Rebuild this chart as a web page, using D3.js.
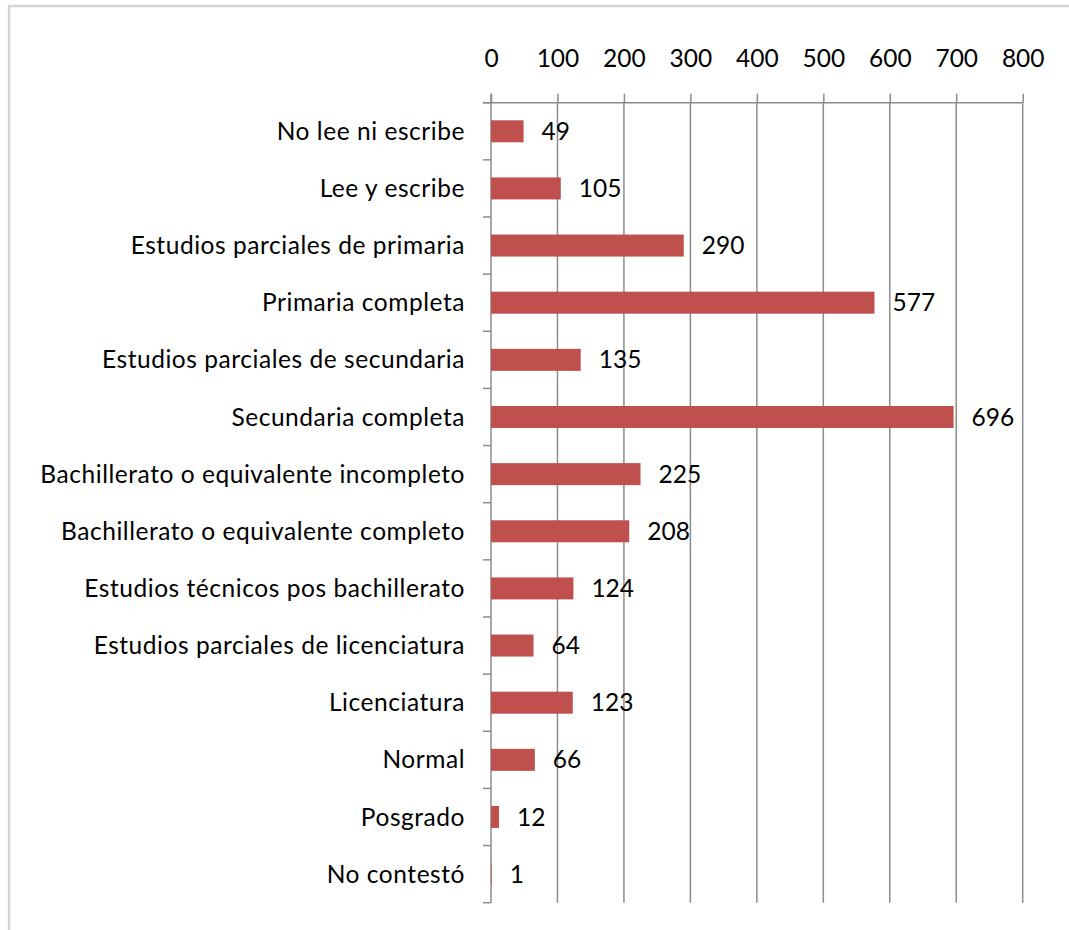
<!DOCTYPE html>
<html>
<head>
<meta charset="utf-8">
<script src="https://cdn.jsdelivr.net/npm/d3@7"></script>
<style>
  html, body { margin: 0; padding: 0; background: #fff; }
  svg { display: block; }
  text { font-family: Lato, "Open Sans", sans-serif; fill: #000; }
</style>
</head>
<body>
<svg id="chart" width="1069" height="930"></svg>
<script>
const categories = [
  "No lee ni escribe",
  "Lee y escribe",
  "Estudios parciales de primaria",
  "Primaria completa",
  "Estudios parciales de secundaria",
  "Secundaria completa",
  "Bachillerato o equivalente incompleto",
  "Bachillerato o equivalente completo",
  "Estudios técnicos pos bachillerato",
  "Estudios parciales de licenciatura",
  "Licenciatura",
  "Normal",
  "Posgrado",
  "No contestó"
];
const values = [49, 105, 290, 577, 135, 696, 225, 208, 124, 64, 123, 66, 12, 1];
const tickValues = [0, 100, 200, 300, 400, 500, 600, 700, 800];

(function () {
const svg = d3.select("#chart");
const pLeft = 491, pRight = 1022.7, pTop = 102.7, pBottom = 902.7;
const fontSize = 24.5;
const gridColor = "#8c8c8c";

// outer border
svg.append("rect")
  .attr("x", 9).attr("y", 6)
  .attr("width", 1200).attr("height", 1200)
  .attr("fill", "none")
  .attr("stroke", "#d4d4d4")
  .attr("stroke-width", 2.5);

const x = d3.scaleLinear().domain([0, 800]).range([pLeft, pRight]);
const y = d3.scaleBand().domain(categories).range([pTop, pBottom])
  .paddingInner(0.615).paddingOuter(0.3075);

// gridlines
svg.append("g").selectAll("line")
  .data(tickValues.slice(1))
  .join("line")
  .attr("x1", d => x(d)).attr("x2", d => x(d))
  .attr("y1", pTop).attr("y2", pBottom)
  .attr("stroke", gridColor).attr("stroke-width", 1.5);

// top axis
const xAxis = d3.axisTop(x).tickValues(tickValues).tickSize(9).tickPadding(27);
const gx = svg.append("g").attr("transform", `translate(0,${pTop})`).call(xAxis);
gx.select(".domain").attr("stroke", gridColor).attr("stroke-width", 1.5)
  .attr("d", `M${pLeft - 8},0H${pRight}`);
gx.selectAll(".tick line").attr("stroke", gridColor).attr("stroke-width", 1.5);
gx.selectAll(".tick text")
  .attr("font-size", fontSize)
  .attr("font-family", "Lato, 'Open Sans', sans-serif")
  .attr("fill", "#000");

// left axis line with category boundary ticks
const ga = svg.append("g");
ga.append("line")
  .attr("x1", pLeft).attr("x2", pLeft).attr("y1", pTop - 9).attr("y2", pBottom)
  .attr("stroke", gridColor).attr("stroke-width", 1.5);
const boundaries = d3.range(categories.length + 1);
ga.selectAll("line.b")
  .data(boundaries)
  .join("line")
  .attr("class", "b")
  .attr("x1", pLeft - 8).attr("x2", pLeft)
  .attr("y1", i => pTop + i * (pBottom - pTop) / categories.length)
  .attr("y2", i => pTop + i * (pBottom - pTop) / categories.length)
  .attr("stroke", gridColor).attr("stroke-width", 1.5);

// category labels
svg.append("g").selectAll("text")
  .data(categories)
  .join("text")
  .attr("x", pLeft - 26)
  .attr("y", d => y(d) + y.bandwidth() / 2)
  .attr("dy", "0.35em")
  .attr("text-anchor", "end")
  .attr("font-size", fontSize)
  .attr("letter-spacing", 0.55)
  .text(d => d);

// bars
svg.append("g").selectAll("rect")
  .data(values)
  .join("rect")
  .attr("x", x(0))
  .attr("y", (d, i) => y(categories[i]))
  .attr("width", d => x(d) - x(0))
  .attr("height", y.bandwidth())
  .attr("fill", "#c0504d");

// value labels
svg.append("g").selectAll("text")
  .data(values)
  .join("text")
  .attr("x", d => x(d) + 18)
  .attr("y", (d, i) => y(categories[i]) + y.bandwidth() / 2)
  .attr("dy", "0.35em")
  .attr("font-size", fontSize)
  .text(d => d);
})();
</script>
</body>
</html>
